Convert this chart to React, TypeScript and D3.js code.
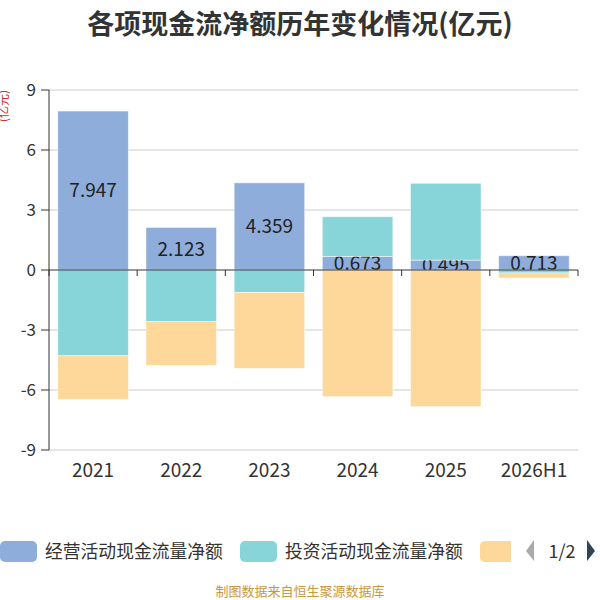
import React from 'react';
import * as d3 from 'd3';

const years = ['2021', '2022', '2023', '2024', '2025', '2026H1'];
const seriesNames = ['经营活动现金流量净额', '投资活动现金流量净额', '筹资活动现金流量净额'];
const operating = [7.947, 2.123, 4.359, 0.673, 0.495, 0.713];
const investing = [-4.29, -2.58, -1.12, 1.99, 3.84, -0.15];
const financing = [-2.18, -2.19, -3.8, -6.33, -6.83, -0.25];
const yTicks = [-9, -6, -3, 0, 3, 6, 9];
const colors = ['#8eaddb', '#87d5d8', '#fed89a'];

const W = 600;
const H = 600;
const FONT = "'Noto Sans CJK SC', 'Noto Sans', sans-serif";

export default function App() {
  const x = d3.scaleBand<string>().domain(years).range([49, 578]).paddingInner(0.2).paddingOuter(0.1);
  const y = d3.scaleLinear().domain([-9, 9]).range([450, 90]);

  const rows = years.map((yr, i) => ({ year: yr, s0: operating[i], s1: investing[i], s2: financing[i] }));
  const stacked = d3.stack<any>().keys(['s0', 's1', 's2']).offset(d3.stackOffsetDiverging)(rows);

  const step = x.step();
  const left = x.range()[0];
  const bounds = d3.range(years.length + 1).map(i => left + i * step);

  const bars = (k: number) =>
    stacked[k].map((d, i) => (
      <rect
        key={`${k}-${i}`}
        x={x(years[i])}
        width={x.bandwidth()}
        y={y(Math.max(d[0], d[1]))}
        height={Math.abs(y(d[0]) - y(d[1]))}
        fill={colors[k]}
        stroke="rgba(255,255,255,0.6)"
        strokeWidth={0.8}
      />
    ));

  return (
    <div style={{ position: 'absolute', left: 0, top: 0 }}>
      <svg width={W} height={H} style={{ fontFamily: FONT, display: 'block' }}>
        <rect width={W} height={H} fill="#fff" />
        <text x={300} y={34} textAnchor="middle" fontSize={27} fontWeight="bold" fill="#333">
          各项现金流净额历年变化情况(亿元)
        </text>
        <text transform="translate(8,106) rotate(-90)" textAnchor="middle" fontSize={12} fill="#c23531">
          (亿元)
        </text>

        {/* grid + y axis */}
        {yTicks.map(t => (
          <g key={t}>
            {t !== 0 && <line x1={49} x2={578} y1={y(t)} y2={y(t)} stroke="#ccc" />}
            <line x1={41} x2={49} y1={y(t)} y2={y(t)} stroke="#333" />
            <text x={36} y={y(t)} dy="0.35em" textAnchor="end" fontSize={17} fill="#333">
              {t}
            </text>
          </g>
        ))}

        {bars(0)}
        {stacked[0].map((d, i) => (
          <text
            key={`l${i}`}
            x={(x(years[i]) as number) + x.bandwidth() / 2}
            y={(y(d[0]) + y(d[1])) / 2}
            dy="0.36em"
            textAnchor="middle"
            fontSize={19}
            fill="#222"
          >
            {operating[i].toFixed(3)}
          </text>
        ))}
        {bars(1)}
        {bars(2)}

        <line x1={49} x2={49} y1={y(9)} y2={y(-9)} stroke="#333" />
        <line x1={49} x2={578} y1={y(0)} y2={y(0)} stroke="#333" />
        {bounds.map((b, i) => (
          <line key={i} x1={b} x2={b} y1={y(0)} y2={y(0) + 6} stroke="#333" />
        ))}
        {years.map(yr => (
          <text key={yr} x={(x(yr) as number) + x.bandwidth() / 2} y={477} textAnchor="middle" fontSize={19} fill="#333">
            {yr}
          </text>
        ))}

        {/* legend */}
        <defs>
          <clipPath id="legendClip">
            <rect x={0} y={530} width={511} height={40} />
          </clipPath>
        </defs>
        <g clipPath="url(#legendClip)">
          {seriesNames.map((n, i) => {
            const lx = i * 240;
            return (
              <g key={n}>
                <rect x={lx} y={541} width={37} height={21} rx={5} fill={colors[i]} />
                <text x={lx + 45} y={552} dy="0.35em" fontSize={17.8} fill="#333">
                  {n}
                </text>
              </g>
            );
          })}
        </g>
        <path d="M534,540 L526,551 L534,561 Z" fill="#aaa" />
        <text x={562} y={552} dy="0.35em" textAnchor="middle" fontSize={18} fill="#333">
          1/2
        </text>
        <path d="M587,540 L595,551 L587,561 Z" fill="#2f4554" />

        <text x={300} y={596} textAnchor="middle" fontSize={13} fill="#c9973d">
          制图数据来自恒生聚源数据库
        </text>
      </svg>
    </div>
  );
}
